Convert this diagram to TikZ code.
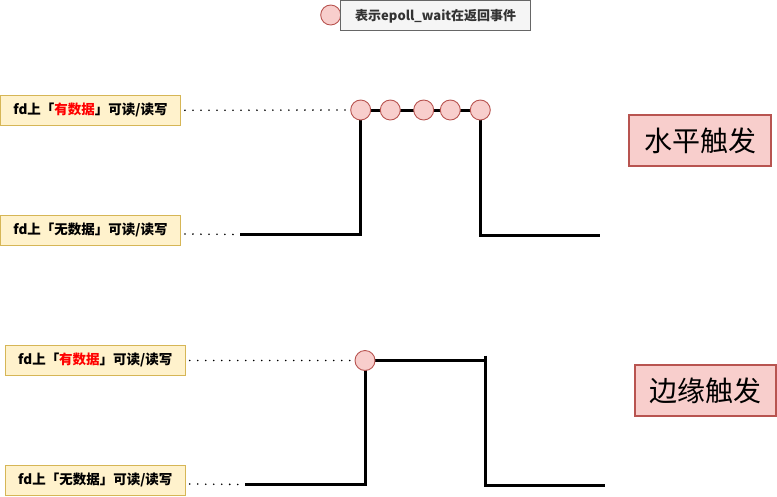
\documentclass[tikz,border=0pt]{standalone}
\usepackage{fontspec}
\setmainfont{Noto Sans CJK SC}
\definecolor{lblfill}{HTML}{FFF2CC}
\definecolor{lbldraw}{HTML}{D6B656}
\definecolor{evfill}{HTML}{F8CECC}
\definecolor{evdraw}{HTML}{B85450}
\definecolor{legfill}{HTML}{F5F5F5}
\definecolor{legdraw}{HTML}{666666}
\definecolor{legtext}{HTML}{333333}
\definecolor{hot}{HTML}{FF0000}
\tikzset{
  lbl/.style={draw=lbldraw, fill=lblfill, line width=0.9pt, minimum height=30pt, inner sep=0pt, font=\fontsize{13.5}{15}\selectfont\bfseries},
  ev/.style={circle, draw=evdraw, fill=evfill, line width=0.9pt, minimum size=20pt, inner sep=0pt},
  mode/.style={draw=evdraw, fill=evfill, line width=1.2pt, minimum height=51pt, inner sep=0pt, font=\fontsize{28}{32}\selectfont},
  sig/.style={line width=3pt, line join=miter},
  dots/.style={line width=1.8pt, dash pattern=on 0pt off 8pt, line cap=round},
}
\begin{document}
\begin{tikzpicture}[x=1pt, y=-1pt]
\useasboundingbox (0,0) rectangle (777,496);

% legend
\node[ev] (legc) at (330.7,15) {};
\node[draw=legdraw, fill=legfill, line width=0.9pt, minimum width=190pt, minimum height=30pt, inner sep=0pt,
      text=legtext, font=\fontsize{13}{15}\selectfont\bfseries] (leg) at (435.7,15.8) {表示epoll\_wait在返回事件};

% ---------- level triggered ----------
\node[lbl, minimum width=180pt] (l1) at (90.5,110.3) {fd上「\textcolor{hot}{有数据}」可读/读写};
\node[lbl, minimum width=180pt] (l2) at (90.5,230.2) {fd上「无数据」可读/读写};

\coordinate (a0) at (240,234.5);
\coordinate (a1) at (360.7,234.5);
\coordinate (a2) at (480.3,235.5);
\coordinate (a3) at (600,235.5);

\draw[sig] (a0) -- (a1) -- (360.7,110) -- (480.3,110) -- (a2) -- (a3);

\node[ev] (e1) at (360.7,110) {};
\node[ev] (e2) at (390.3,110) {};
\node[ev] (e3) at (423.7,110) {};
\node[ev] (e4) at (450.3,110) {};
\node[ev] (e5) at (480.3,110) {};

\draw[dots] (l1.east) ++(4,0) -- (e1.west);
\draw[dots] (l2.east) ++(4,3.8) -- (a0);

\node[mode, minimum width=142pt] (lt) at (700,140.5) {水平触发};

% ---------- edge triggered ----------
\node[lbl, minimum width=180pt] (l3) at (95.3,360.2) {fd上「\textcolor{hot}{有数据}」可读/读写};
\node[lbl, minimum width=180pt] (l4) at (95.3,480.2) {fd上「无数据」可读/读写};

\coordinate (b0) at (245,484.5);
\coordinate (b1) at (365,484.5);
\coordinate (b2) at (485,485.5);
\coordinate (b3) at (605,485.5);

\draw[sig] (b0) -- (b1) -- (365,360.5) -- (485,360.5);
\draw[sig] (485,355.5) -- (b2) -- (b3);

\node[ev] (f1) at (365,360.5) {};

\draw[dots] (l3.east) ++(4,0.3) -- (f1.west);
\draw[dots] (l4.east) ++(4,3.8) -- (b0);

\node[mode, minimum width=141pt] (et) at (705.5,390.5) {边缘触发};
\end{tikzpicture}
\end{document}
